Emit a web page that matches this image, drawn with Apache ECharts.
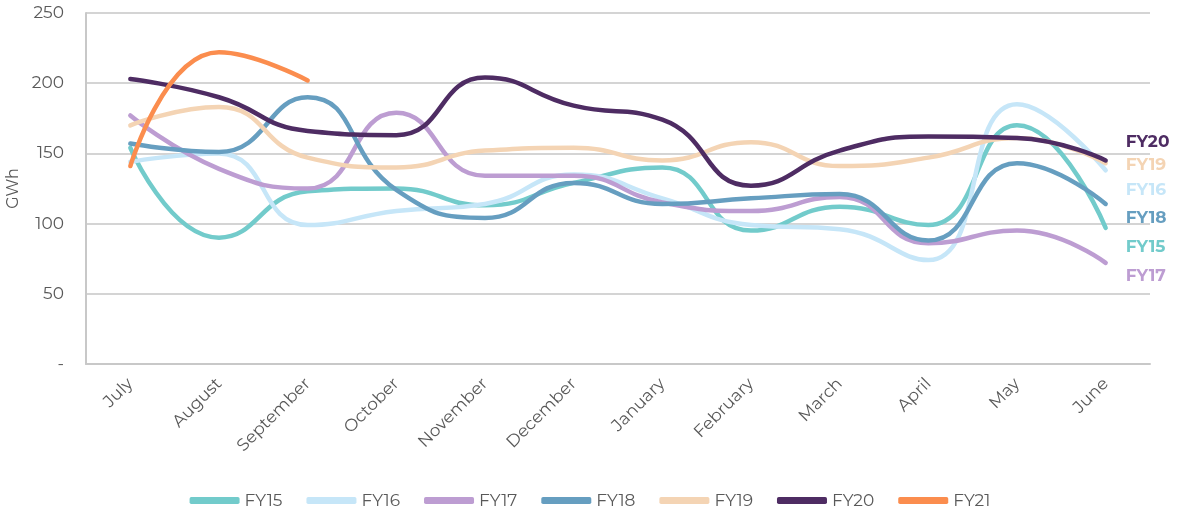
<!DOCTYPE html>
<html>
<head>
<meta charset="utf-8">
<script src="https://cdn.jsdelivr.net/npm/echarts@6/dist/echarts.min.js"></script>
<style>html,body{margin:0;padding:0;background:#fff}#c{width:1180px;height:518px}</style>
</head>
<body>
<div id="c"></div>
<script>
const months = ['July','August','September','October','November','December','January','February','March','April','May','June'];
const yTicks = [0, 50, 100, 150, 200, 250];
const seriesNames = ['FY15','FY16','FY17','FY18','FY19','FY20','FY21'];
const FY15 = [154, 90, 123, 125, 113, 129, 140, 95, 112, 99, 170, 97];
const FY16 = [144, 150, 99, 109, 114, 135, 118, 99, 96, 74, 185, 138];
const FY17 = [177, 139, 125, 179, 134, 134, 115, 109, 119, 86, 95, 72];
const FY18 = [157, 151, 190, 124, 104, 129, 114, 118, 121, 88, 143, 114];
const FY19 = [170, 183, 147, 140, 152, 154, 145, 158, 141, 147, 161, 143];
const FY20 = [203, 190, 166, 163, 204, 184, 174, 127, 152, 162, 161, 145];
const FY21 = [141, 222, 202];
const colors = ['#72CBCB','#C6E6F8','#BD9DD2','#669EC0','#F4D4B4','#4E2C63','#FB8D4E'];
const endOffsets = [[20,19],[20,20],[20,13],[20,14],[20,2],[20,-18]];

const font = 'Montserrat, "Noto Sans", sans-serif';
const dataArr = [FY15, FY16, FY17, FY18, FY19, FY20];
const series = dataArr.map((d, i) => ({
  name: seriesNames[i],
  type: 'line',
  data: d,
  smooth: 0.5,
  symbol: 'none',
  z: 2 + i,
  lineStyle: { width: 4.5, color: colors[i], cap: 'round' },
  itemStyle: { color: colors[i] },
  endLabel: {
    show: true,
    formatter: '{a}',
    color: colors[i],
    fontWeight: 'bold',
    fontSize: 17,
    fontFamily: font,
    distance: 0,
    offset: endOffsets[i]
  }
}));
series.push({
  name: 'FY21',
  type: 'line',
  smooth: 0.5,
  symbol: 'none',
  z: 10,
  lineStyle: { width: 4.5, color: colors[6], cap: 'round' },
  itemStyle: { color: colors[6] },
  data: FY21.map((v, i) => {
    if (i === 0) return { value: v, label: { show: true, position: 'bottom', formatter: 'FY21', color: colors[6], fontWeight: 'bold', fontSize: 17, fontFamily: font, offset: [-12, 2] } };
    if (i === FY21.length - 1) return { value: v, label: { show: true, position: 'top', formatter: '{c}', color: '#595959', fontSize: 17, fontFamily: font, offset: [13, -12] } };
    return v;
  })
});

const chart = echarts.init(document.getElementById('c'));
chart.setOption({
  animation: false,
  textStyle: { fontFamily: font },
  grid: { left: 86, right: 30, top: 13, bottom: 154, containLabel: false, outerBoundsMode: 'none' },
  legend: {
    bottom: 4,
    left: 'center',
    icon: 'roundRect',
    itemWidth: 50,
    itemHeight: 7,
    itemGap: 24,
    textStyle: { color: '#595959', fontSize: 17, fontFamily: font },
    data: seriesNames
  },
  xAxis: {
    type: 'category',
    data: months,
    boundaryGap: true,
    axisLine: { show: true, lineStyle: { color: '#c8c8c8', width: 2 } },
    axisTick: { show: false },
    axisLabel: { rotate: 45, color: '#595959', fontSize: 17, margin: 17, fontFamily: font }
  },
  yAxis: {
    type: 'value',
    min: yTicks[0],
    max: yTicks[yTicks.length - 1],
    interval: 50,
    name: 'GWh',
    nameLocation: 'middle',
    nameGap: 62,
    nameRotate: 90,
    nameTextStyle: { color: '#595959', fontSize: 16, fontFamily: font },
    axisLine: { show: true, lineStyle: { color: '#c8c8c8', width: 2 } },
    axisTick: { show: false },
    axisLabel: { color: '#595959', fontSize: 17, margin: 22, fontFamily: font, formatter: v => v === 0 ? '-' : String(v) },
    splitLine: { lineStyle: { color: '#d4d4d4', width: 2 } }
  },
  series: series
});
</script>
</body>
</html>
